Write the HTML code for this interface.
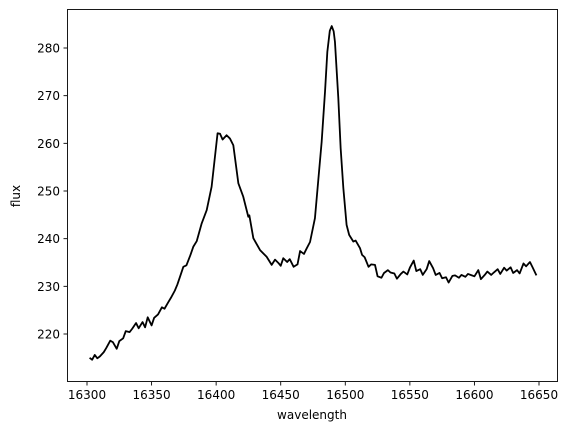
<!DOCTYPE html>
<html><head><meta charset="utf-8">
<style>
body{margin:0;background:#fff;}
svg{font-family:"DejaVu Sans","Liberation Sans",sans-serif;}
</style></head>
<body>
<svg id="chart" width="571" height="432" viewBox="0 0 571 432" xmlns="http://www.w3.org/2000/svg">
<rect x="0" y="0" width="571" height="432" fill="#fff"/>
<g id="plot"></g>
<rect x="67.5" y="9.5" width="490" height="372" fill="none" stroke="#000" stroke-width="0.9"/>
<g id="xticks"></g>
<g id="yticks"></g>
<text x="312" y="419" font-size="12" text-anchor="middle">wavelength</text>
<text x="20" y="196" font-size="12" text-anchor="middle" transform="rotate(-90 20 196)">flux</text>
</svg>
<script>
const wavelengths=[16302,16304,16306,16308,16310,16313,16315,16318,16320,16323,16325,16328,16330,16333,16335,16338,16340,16343,16345,16347,16350,16352,16355,16358,16360,16363,16365,16368,16370,16372,16374.6,16377,16380,16382.3,16385,16388.8,16392.7,16396.5,16401.1,16403,16405,16408.1,16410.7,16413.3,16417.2,16421,16424.9,16425.7,16428.8,16434,16439.1,16443,16445.6,16448.2,16450,16452,16455,16457,16460,16463,16465,16468,16470,16472.7,16476.5,16479,16481.7,16484.3,16486.1,16488,16489.5,16491,16492,16494.6,16496.4,16498.5,16501,16503,16506.2,16508,16511.4,16513,16515,16518,16520,16523,16525,16528,16530,16533,16535,16538,16540,16543,16545,16548,16550,16553,16555,16558,16560,16563,16565,16568,16570,16573,16575,16578,16580,16583,16585,16588,16590,16593,16595,16598,16600,16603,16605,16608,16610,16613,16615,16618,16620,16623,16625,16628,16630,16633,16635,16638,16640,16643,16645,16648,16650];
const flux=[215,214.6,215.6,214.9,215.3,216.2,217.1,218.6,218.3,216.9,218.5,219.1,220.6,220.4,221.1,222.3,221.2,222.5,221.4,223.5,221.8,223.4,224.1,225.6,225.3,226.7,227.6,229.1,230.4,232,234.1,234.4,236.5,238.3,239.5,243.2,246,250.9,262.1,262,260.8,261.7,261,259.6,251.6,248.8,244.6,244.9,240.1,237.6,236.2,234.5,235.6,234.9,234.3,235.9,235.1,235.7,234.1,234.6,237.4,236.8,237.9,239.3,244.3,252,260.3,270.8,279.2,283.6,284.6,283.5,281.3,269.5,259,250.6,242.9,240.8,239.4,239.6,238,236.6,236.1,234.1,234.6,234.5,232.1,231.8,232.8,233.4,232.9,232.7,231.6,232.6,233.1,232.5,233.9,235.4,233.2,233.6,232.4,233.6,235.3,233.8,232.4,232.8,231.7,231.9,230.8,232.2,232.3,231.8,232.4,232.0,232.6,232.3,232.1,233.4,231.5,232.4,233.1,232.4,232.9,233.6,232.6,233.9,233.3,234.0,232.8,233.4,232.7,234.8,234.2,235.1,234.0,232.3];
const xTickValues=[16300,16350,16400,16450,16500,16550,16600,16650];
const yTickValues=[220,230,240,250,260,270,280];
const NS="http://www.w3.org/2000/svg";
function xScale(v){return 87+(v-16300)*(452/350);}
function yScale(v){return 334-(v-220)*(286/60);}
const plot=document.getElementById('plot');
let d='';
for(let i=0;i<wavelengths.length;i++){d+=(i?'L':'M')+xScale(wavelengths[i]).toFixed(2)+','+yScale(flux[i]).toFixed(2);}
const line=document.createElementNS(NS,'path');
line.setAttribute('d',d);line.setAttribute('fill','none');line.setAttribute('stroke','#000');line.setAttribute('stroke-width','1.8');line.setAttribute('stroke-linejoin','round');


plot.appendChild(line);
const xg=document.getElementById('xticks');
xTickValues.forEach(v=>{
  const x=xScale(v);
  const t=document.createElementNS(NS,'line');
  t.setAttribute('x1',x);t.setAttribute('x2',x);t.setAttribute('y1',382);t.setAttribute('y2',385.5);t.setAttribute('stroke','#000');t.setAttribute('stroke-width','0.9');
  
  
  xg.appendChild(t);
  const l=document.createElementNS(NS,'text');
  l.setAttribute('x',x);l.setAttribute('y',399);l.setAttribute('font-size','12');l.setAttribute('text-anchor','middle');l.textContent=v;
  
  
  xg.appendChild(l);
});
const yg=document.getElementById('yticks');
yTickValues.forEach(v=>{
  const y=yScale(v);
  const t=document.createElementNS(NS,'line');
  t.setAttribute('x1',63.5);t.setAttribute('x2',67);t.setAttribute('y1',y);t.setAttribute('y2',y);t.setAttribute('stroke','#000');t.setAttribute('stroke-width','0.9');
  
  
  yg.appendChild(t);
  const l=document.createElementNS(NS,'text');
  l.setAttribute('x',60);l.setAttribute('y',y+4.5);l.setAttribute('font-size','12');l.setAttribute('text-anchor','end');l.textContent=v;
  
  
  yg.appendChild(l);
});
</script>
</body></html>
